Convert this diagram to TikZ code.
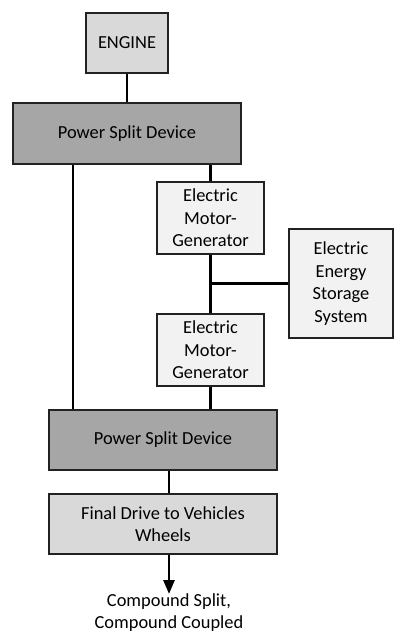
\documentclass[tikz,border=0pt]{standalone}
\usepackage{fontspec}
\setmainfont{Carlito}
\usetikzlibrary{arrows.meta}
\definecolor{boxdark}{HTML}{A6A6A6}
\definecolor{boxmid}{HTML}{D9D9D9}
\definecolor{boxlight}{HTML}{F2F2F2}
\definecolor{rim}{HTML}{222222}
\begin{document}
\begin{tikzpicture}[x=1pt,y=-1pt,
    blk/.style={draw=rim,line width=1.6pt,inner sep=0pt,align=center,
      font=\fontsize{18.4}{22.5}\selectfont},
    link/.style={line width=2.6pt,draw=black},
    split/.style={blk,fill=boxdark,minimum width=228pt,minimum height=61pt},
    motor/.style={blk,fill=boxlight,minimum width=107pt,minimum height=72pt}]
    \useasboundingbox (0,0) rectangle (394,634);
    \node[blk,fill=boxmid,minimum width=82pt,minimum height=60pt] (engine) at (127,43) {ENGINE};
    \node[split] (psdA) at (127,133.5) {Power Split Device};
    \node[motor] (emgA) at (210.5,218) {Electric\\Motor-\\Generator};
    \node[blk,fill=boxlight,minimum width=104pt,minimum height=109pt] (eess) at (341,283.5) {Electric\\Energy\\Storage\\System};
    \node[motor] (emgB) at (210.5,350) {Electric\\Motor-\\Generator};
    \node[split,minimum height=60pt] (psdB) at (163,440) {Power Split Device};
    \node[blk,fill=boxmid,minimum width=228pt,minimum height=60pt] (final) at (163,524) {Final Drive to Vehicles\\Wheels};
    \node[inner sep=0pt,align=center,font=\fontsize{18.4}{21.5}\selectfont,anchor=north] (mode) at (169,594) {Compound Split,\\Compound Coupled};
    \draw[link] (engine.south) -- (psdA.north);
    \draw[link] ([xshift=-54pt]psdA.south) -- ([xshift=-90pt]psdB.north);
    \draw[link] (emgA.north |- psdA.south) -- (emgA.north);
    \draw[link] (emgA.south) -- (emgB.north);
    \draw[link] (emgA.south |- eess.west) -- (eess.west);
    \draw[link] (emgB.south) -- (emgB.south |- psdB.north);
    \draw[link] ([xshift=6pt]psdB.south) -- ([xshift=6pt]final.north);
    \draw[link,-{Triangle[length=14pt,width=11pt]}] ([xshift=6pt]final.south) -- (mode.north);
  \end{tikzpicture}
\end{document}
